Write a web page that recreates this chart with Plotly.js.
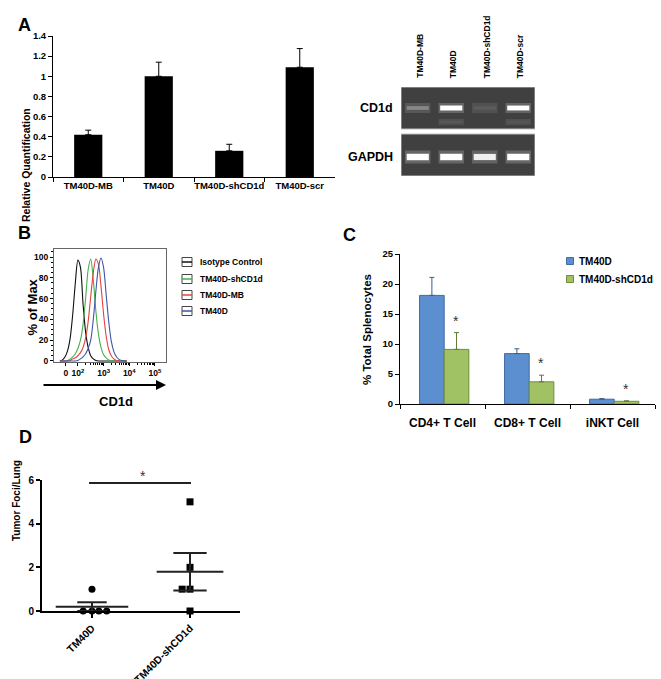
<!DOCTYPE html>
<html><head><meta charset="utf-8">
<script src="https://cdn.plot.ly/plotly-3.0.1.min.js"></script>
<style>html,body{margin:0;padding:0;background:#fff;}#chart{width:661px;height:679px;}</style>
</head><body><div id="chart"></div>
<script>
// ---------- Panel A: qPCR ----------
const qpcrLabels = ['TM40D-MB', 'TM40D', 'TM40D-shCD1d', 'TM40D-scr'];
const qpcrValues = [0.42, 1.00, 0.26, 1.09];
const qpcrErrors = [0.045, 0.14, 0.065, 0.185];
const qpcrTicks = [0, 0.2, 0.4, 0.6, 0.8, 1, 1.2, 1.4];

// ---------- Panel A: gel ----------
const gelLanes = ['TM40D-MB', 'TM40D', 'TM40D-shCD1d', 'TM40D-scr'];
const gelRowLabels = ['CD1d', 'GAPDH'];
const cd1dBand = [0.45, 1.0, 0.22, 0.95];
const cd1dLowerBand = [0, 0.2, 0, 0.18];
const gapdhBand = [1.0, 1.0, 0.9, 1.0];

// ---------- Panel B: flow histograms (x = log10 CD1d) ----------
const flowLogCD1d = [1.3,1.4,1.5,1.6,1.7,1.8,1.9,2.0,2.1,2.2,2.3,2.4,2.5,2.6,2.7,2.8,2.9,3.0,3.1,3.2,3.3,3.4,3.5,3.6,3.7,3.8,3.9];
const flowIsotype = [0,1,4,10,22,45,75,97,90,55,28,13,5,2,0.5,0,0,0,0,0,0,0,0,0,0,0,0];
const flowShCD1d  = [0,0,0,0.5,2,4,7,12,20,35,60,88,98,78,48,26,13,6,3,1,0,0,0,0,0,0,0];
const flowMB      = [0,0,0,0,0.5,2,3,5,8,13,22,38,62,85,98,93,72,45,24,11,5,2,0.5,0,0,0,0];
const flowTM40D   = [0,0,0,0,0,0,0,0.5,2,4,7,12,20,40,67,90,99,90,64,38,19,9,4,1.5,0.5,0,0];
const flowSeriesNames = ['Isotype Control', 'TM40D-shCD1d', 'TM40D-MB', 'TM40D'];
const flowTickText = ['0', '10<sup>2</sup>', '10<sup>3</sup>', '10<sup>4</sup>', '10<sup>5</sup>'];
const flowTickPos = [1.53, 2, 3, 4, 5];

// ---------- Panel C: splenocytes ----------
const cellTypes = ['CD4+ T Cell', 'CD8+ T Cell', 'iNKT Cell'];
const spleenTM40D = [18.1, 8.4, 0.8];
const spleenTM40DErr = [3.0, 0.8, 0.1];
const spleenShCD1d = [9.1, 3.7, 0.45];
const spleenShCD1dErr = [2.8, 1.1, 0.08];

// ---------- Panel D: tumor foci ----------
const lungGroups = ['TM40D', 'TM40D-shCD1d'];
const lungTM40D = [0, 0, 0, 0, 1];
const lungShCD1d = [5, 2, 1, 1, 0];

// ---------- layout helpers (positions, not data) ----------
const W = 661, H = 679;
const PX = x => x / W, PY = y => 1 - y / H;
const dx = (a, b) => [PX(a), PX(b)];
const dy = (t, b) => [PY(b), PY(t)];
const FF = '"Liberation Sans", Arial, Helvetica, sans-serif';
const bf = (size, color) => ({family: FF, size: size, color: color || '#000', weight: 'bold'});

const traces = [];
const shapes = [];
const ann = [];

// Panel A bars
traces.push({
  type: 'bar', x: qpcrLabels, y: qpcrValues, xaxis: 'x', yaxis: 'y', width: 0.4,
  marker: {color: '#000'},
  error_y: {type: 'data', array: qpcrErrors, arrayminus: qpcrErrors.map(() => 0), symmetric: false,
            color: '#000', thickness: 1, width: 3},
  showlegend: false, hoverinfo: 'skip'
});

// Gel
shapes.push({type: 'rect', xref: 'x2', yref: 'y2', x0: 0, x1: 4, y0: 0, y1: 42, fillcolor: '#404040', line: {color: '#bdbdbd', width: 1}, layer: 'below'});
shapes.push({type: 'rect', xref: 'x2', yref: 'y2', x0: 0, x1: 4, y0: 47, y1: 89, fillcolor: '#404040', line: {color: '#bdbdbd', width: 1}, layer: 'below'});
const gelRows = [
  {vals: cd1dBand, y: 21, thick: 5},
  {vals: cd1dLowerBand, y: 35, thick: 3},
  {vals: gapdhBand, y: 70, thick: 6.5}
];
gelRows.forEach(r => {
  r.vals.forEach((I, i) => {
    if (I <= 0) return;
    const c = i + 0.5;
    traces.push({type: 'scatter', mode: 'lines', xaxis: 'x2', yaxis: 'y2', x: [c - 0.38, c + 0.38], y: [r.y, r.y],
      line: {color: 'rgba(255,255,255,' + (0.06 + 0.14 * I) + ')', width: r.thick * 2.0}, showlegend: false, hoverinfo: 'skip'});
    const g = Math.round(64 + (255 - 64) * Math.min(1, Math.pow(I, 1.3) * 1.05));
    traces.push({type: 'scatter', mode: 'lines', xaxis: 'x2', yaxis: 'y2', x: [c - 0.33, c + 0.33], y: [r.y, r.y],
      line: {color: 'rgb(' + g + ',' + g + ',' + g + ')', width: r.thick * (0.55 + 0.45 * I)}, showlegend: false, hoverinfo: 'skip'});
  });
});
gelLanes.forEach((l, i) => ann.push({xref: 'x2', yref: 'paper', x: i + 0.5, y: PY(80), text: l, textangle: -90,
  xanchor: 'center', yanchor: 'bottom', showarrow: false, font: bf(8.5), xshift: 2}));
ann.push({xref: 'paper', yref: 'paper', x: PX(395), y: PY(108), text: gelRowLabels[0], xanchor: 'right', yanchor: 'middle', showarrow: false, font: bf(12.5)});
ann.push({xref: 'paper', yref: 'paper', x: PX(395), y: PY(157), text: gelRowLabels[1], xanchor: 'right', yanchor: 'middle', showarrow: false, font: bf(12.5)});

// Panel B histograms
const flowColors = ['#111111', '#45b04a', '#e2443c', '#3d56a6'];
[flowIsotype, flowShCD1d, flowMB, flowTM40D].forEach((ys, k) => {
  traces.push({type: 'scatter', mode: 'lines', xaxis: 'x3', yaxis: 'y3', x: flowLogCD1d, y: ys,
    line: {color: flowColors[k], width: 1.1, shape: 'spline', smoothing: 0.8}, name: flowSeriesNames[k], showlegend: false, hoverinfo: 'skip'});
});
const legY = [262, 279, 295, 311];
flowSeriesNames.forEach((n, k) => {
  shapes.push({type: 'rect', xref: 'paper', yref: 'paper', x0: PX(182), x1: PX(192), y0: PY(legY[k] + 4.5), y1: PY(legY[k] - 4.5), line: {color: '#444', width: 1}, fillcolor: '#fff'});
  shapes.push({type: 'line', xref: 'paper', yref: 'paper', x0: PX(182), x1: PX(192), y0: PY(legY[k]), y1: PY(legY[k]), line: {color: flowColors[k], width: 1.5}});
  ann.push({xref: 'paper', yref: 'paper', x: PX(198), y: PY(legY[k]), text: n, xanchor: 'left', yanchor: 'middle', showarrow: false, font: bf(8.5)});
});
const minorLog = [];
for (let d = 2; d < 5; d++) for (let m = 2; m <= 9; m++) minorLog.push(d + Math.log10(m));

// Panel C bars
traces.push({type: 'bar', x: cellTypes, y: spleenTM40D, xaxis: 'x4', yaxis: 'y4', width: 0.29, offset: -0.27,
  marker: {color: '#5b8fcf', line: {color: '#3f6ca2', width: 1}},
  error_y: {type: 'data', array: spleenTM40DErr, arrayminus: spleenTM40DErr.map(() => 0), symmetric: false, color: '#3a5f8f', thickness: 1, width: 2.5},
  showlegend: false, hoverinfo: 'skip'});
traces.push({type: 'bar', x: cellTypes, y: spleenShCD1d, xaxis: 'x4', yaxis: 'y4', width: 0.29, offset: 0.02,
  marker: {color: '#a0c264', line: {color: '#6f8c3b', width: 1}},
  error_y: {type: 'data', array: spleenShCD1dErr, arrayminus: spleenShCD1dErr.map(() => 0), symmetric: false, color: '#5f7a34', thickness: 1, width: 2.5},
  showlegend: false, hoverinfo: 'skip'});
cellTypes.forEach((c, i) => ann.push({xref: 'x4', yref: 'y4', x: c, y: spleenShCD1d[i] + spleenShCD1dErr[i], text: '*',
  xanchor: 'center', yanchor: 'bottom', showarrow: false, font: {family: FF, size: 14, color: '#333'}, xshift: 13, yshift: 2}));
const cLeg = [['TM40D', '#5b8fcf', '#3f6ca2', 261], ['TM40D-shCD1d', '#a0c264', '#6f8c3b', 279]];
cLeg.forEach(l => {
  shapes.push({type: 'rect', xref: 'paper', yref: 'paper', x0: PX(566.5), x1: PX(573.5), y0: PY(l[3] + 3.5), y1: PY(l[3] - 3.5), fillcolor: l[1], line: {color: l[2], width: 1}});
  ann.push({xref: 'paper', yref: 'paper', x: PX(577), y: PY(l[3]), text: l[0], xanchor: 'left', yanchor: 'middle', showarrow: false, font: bf(10)});
});

// Panel D
const tmJitter = [-0.09, 0, 0.07, 0.15, 0];
const shJitter = [0, 0, -0.08, 0, 0];
traces.push({type: 'scatter', mode: 'markers', xaxis: 'x5', yaxis: 'y5', x: lungTM40D.map((v, i) => 0 + tmJitter[i]), y: lungTM40D,
  marker: {symbol: 'circle', size: 7, color: '#000'}, cliponaxis: false, showlegend: false, hoverinfo: 'skip'});
traces.push({type: 'scatter', mode: 'markers', xaxis: 'x5', yaxis: 'y5', x: lungShCD1d.map((v, i) => 1 + shJitter[i]), y: lungShCD1d,
  marker: {symbol: 'square', size: 7, color: '#000'}, cliponaxis: false, showlegend: false, hoverinfo: 'skip'});
function meanSem(a) {
  const n = a.length, m = a.reduce((s, v) => s + v, 0) / n;
  const sd = Math.sqrt(a.reduce((s, v) => s + (v - m) * (v - m), 0) / (n - 1));
  return [m, sd / Math.sqrt(n)];
}
const meanHalf = [0.37, 0.34], semHalf = [0.15, 0.17];
[lungTM40D, lungShCD1d].forEach((a, g) => {
  const [m, se] = meanSem(a);
  const xs = [g - meanHalf[g], g + meanHalf[g], null, g - semHalf[g], g + semHalf[g], null, g - semHalf[g], g + semHalf[g], null, g, g];
  const ys = [m, m, null, m + se, m + se, null, m - se, m - se, null, m - se, m + se];
  traces.push({type: 'scatter', mode: 'lines', xaxis: 'x5', yaxis: 'y5', x: xs, y: ys, line: {color: '#222', width: 2},
    cliponaxis: false, showlegend: false, hoverinfo: 'skip'});
});
shapes.push({type: 'line', xref: 'x5', yref: 'paper', x0: -0.03, x1: 1.01, y0: PY(483), y1: PY(483), line: {color: '#222', width: 2}});
ann.push({xref: 'paper', yref: 'paper', x: PX(138), y: PY(486), text: '*', showarrow: false, font: {family: FF, size: 14, color: '#333'}});

// Panel letters & titles
[['A', 16, 13], ['B', 16, 233], ['C', 350, 235], ['D', 17, 437]].forEach(l =>
  ann.push({xref: 'paper', yref: 'paper', x: PX(l[1]), y: PY(l[2]), text: l[0], showarrow: false, font: bf(18)}));
ann.push({xref: 'paper', yref: 'paper', x: PX(18), y: PY(106), text: 'Relative Quantification', textangle: -90, showarrow: false, font: bf(10.5)});
ann.push({xref: 'paper', yref: 'paper', x: PX(23), y: PY(307), text: '% of Max', textangle: -90, showarrow: false, font: bf(13)});
ann.push({xref: 'paper', yref: 'paper', x: PX(97), y: PY(401), text: 'CD1d', showarrow: false, font: bf(13)});
ann.push({xref: 'paper', yref: 'paper', x: PX(166), y: PY(385), ax: -124, ay: 0, text: '', showarrow: true, arrowhead: 2, arrowsize: 1, arrowwidth: 2, arrowcolor: '#000'});
ann.push({xref: 'paper', yref: 'paper', x: PX(367), y: PY(330), text: '% Total Splenocytes', textangle: -90, showarrow: false, font: bf(11.5)});
ann.push({xref: 'paper', yref: 'paper', x: PX(9), y: PY(543), text: 'Tumor Foci/Lung', textangle: -90, showarrow: false, font: bf(10)});

const baseAx = {showgrid: false, zeroline: false, showline: true, linecolor: '#000', linewidth: 1, ticks: 'outside', tickcolor: '#000', ticklen: 4, fixedrange: true};

const layout = {
  width: W, height: H, margin: {l: 0, r: 0, t: 0, b: 0}, paper_bgcolor: '#fff', plot_bgcolor: 'rgba(0,0,0,0)',
  barmode: 'overlay', showlegend: false, font: {family: FF},
  xaxis: Object.assign({}, baseAx, {domain: dx(53, 335), anchor: 'y', type: 'category', range: [-0.5, 3.5], tickson: 'boundaries', tickangle: 0, tickfont: bf(9.5)}),
  yaxis: Object.assign({}, baseAx, {domain: dy(36, 177), anchor: 'x', range: [0, 1.4], tickvals: qpcrTicks, tickfont: bf(9.5)}),
  xaxis2: {domain: dx(401, 535), anchor: 'y2', range: [0, 4], visible: false, fixedrange: true},
  yaxis2: {domain: dy(87, 176), anchor: 'x2', range: [89, 0], visible: false, fixedrange: true},
  xaxis3: Object.assign({}, baseAx, {domain: dx(54, 166), anchor: 'y3', range: [1.07, 5.43], linecolor: '#666', mirror: true, ticklen: 3,
    tickvals: flowTickPos, ticktext: flowTickText, tickfont: bf(8.5), minor: {tickvals: minorLog, ticks: 'outside', ticklen: 2, tickcolor: '#000'}}),
  yaxis3: Object.assign({}, baseAx, {domain: dy(249, 362), anchor: 'x3', range: [-1, 107.7], linecolor: '#666', mirror: true, ticklen: 3,
    tickvals: [0, 20, 40, 60, 80, 100], tickfont: bf(8.5), minor: {dtick: 5, ticks: 'outside', ticklen: 2, tickcolor: '#000'}}),
  xaxis4: Object.assign({}, baseAx, {domain: dx(400, 655), anchor: 'y4', type: 'category', range: [-0.5, 2.5], tickson: 'boundaries', tickangle: 0, tickfont: bf(12), ticklabelstandoff: 8}),
  yaxis4: Object.assign({}, baseAx, {domain: dy(254, 404), anchor: 'x4', range: [0, 25], dtick: 5, tickfont: bf(9.5)}),
  xaxis5: Object.assign({}, baseAx, {domain: dx(42, 240), anchor: 'y5', range: [-0.51, 1.51], tickvals: [0, 1], ticktext: lungGroups, tickangle: -45,
    linewidth: 2, tickwidth: 2, ticklen: 5, tickfont: bf(10.5)}),
  yaxis5: Object.assign({}, baseAx, {domain: dy(480, 611), anchor: 'x5', range: [0, 6], dtick: 2, linewidth: 2, tickwidth: 2, ticklen: 4, tickfont: bf(10)}),
  shapes: shapes, annotations: ann
};
Plotly.newPlot('chart', traces, layout, {staticPlot: true, displayModeBar: false});
</script></body></html>
